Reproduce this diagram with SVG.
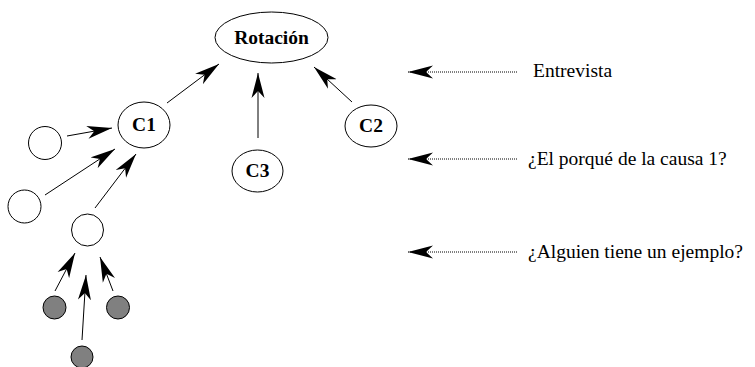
<svg xmlns="http://www.w3.org/2000/svg" width="755" height="367" viewBox="0 0 755 367">
<defs>
<style>
.node{fill:#fff;stroke:#000;stroke-width:1}
.gray{fill:#808080;stroke:#000;stroke-width:1}
.lbl{font-family:"Liberation Serif",serif;font-weight:bold;font-size:19.5px;text-anchor:middle;fill:#000}
.note{font-family:"Liberation Serif",serif;font-size:19.5px;fill:#000}
.edge{stroke:#000;stroke-width:1;fill:none;marker-end:url(#ah)}
.dot{stroke:#000;stroke-width:1;stroke-dasharray:1 1;fill:none;marker-end:url(#ah)}
</style>
<marker id="ah" markerUnits="userSpaceOnUse" viewBox="-25 -7 26 14" refX="0" refY="0" markerWidth="26" markerHeight="14" orient="auto">
<path d="M0,0 L-25,-6.5 L-18,0 L-25,6.5 Z" fill="#000"/>
</marker>
</defs>
<g id="connectors">
<line class="edge" x1="167" y1="103" x2="219" y2="64"/>
<line class="edge" x1="258" y1="138" x2="258" y2="73"/>
<line class="edge" x1="352" y1="102" x2="314" y2="67"/>
<line class="edge" x1="67" y1="136" x2="112" y2="128"/>
<line class="edge" x1="45" y1="195" x2="115" y2="149"/>
<line class="edge" x1="95" y1="208" x2="136" y2="154"/>
<line class="edge" x1="55" y1="291" x2="75" y2="253"/>
<line class="edge" x1="82" y1="340" x2="86" y2="275"/>
<line class="edge" x1="113" y1="291" x2="100" y2="257"/>
<line class="dot" x1="517" y1="72" x2="408" y2="72"/>
<line class="dot" x1="517" y1="159" x2="408" y2="159"/>
<line class="dot" x1="517" y1="252" x2="408" y2="252"/>
</g>
<g id="rotacion"><ellipse class="node" cx="271.5" cy="37.5" rx="56.5" ry="25.5"/><text class="lbl" x="271.5" y="44">Rotación</text></g>
<g id="c1"><ellipse class="node" cx="144" cy="125" rx="26" ry="23"/><text class="lbl" x="144" y="131">C1</text></g>
<g id="c2"><ellipse class="node" cx="371" cy="126" rx="26" ry="21"/><text class="lbl" x="371" y="132">C2</text></g>
<g id="c3"><ellipse class="node" cx="257.5" cy="171" rx="25.5" ry="21"/><text class="lbl" x="257.5" y="177">C3</text></g>
<g id="n1"><circle class="node" cx="45" cy="143" r="16.5"/></g>
<g id="n2"><circle class="node" cx="24.5" cy="206.5" r="16.5"/></g>
<g id="n3"><circle class="node" cx="87.5" cy="230" r="16"/></g>
<g id="g1"><circle class="gray" cx="54.5" cy="307.5" r="11.5"/></g>
<g id="g2"><circle class="gray" cx="118" cy="307.5" r="11.5"/></g>
<g id="g3"><circle class="gray" cx="82" cy="357" r="11"/></g>
<g id="notes">
<text class="note" x="533" y="77">Entrevista</text>
<text class="note" x="528" y="165">¿El porqué de la causa 1?</text>
<text class="note" x="528" y="258">¿Alguien tiene un ejemplo?</text>
</g>
</svg>
